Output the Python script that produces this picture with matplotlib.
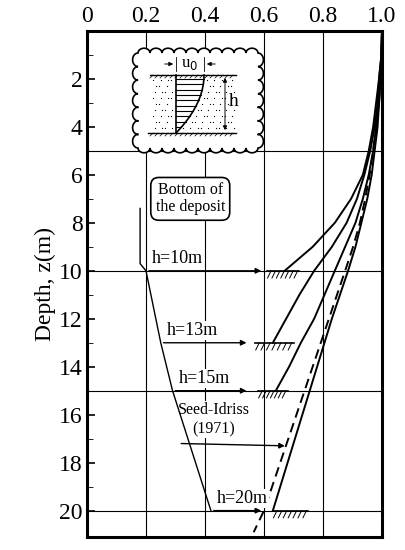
import matplotlib
matplotlib.use("Agg")
import matplotlib.pyplot as plt
import numpy as np

plt.rcParams["font.family"] = ["Liberation Serif", "DejaVu Serif"]

# (ratio u/u0, depth z)
z10 = [0, 1, 2, 3, 4, 5, 6, 7, 8, 9, 10]
u10 = [1.0, 0.998, 0.99, 0.98, 0.97, 0.955, 0.935, 0.895, 0.84, 0.765, 0.67]
z13 = [0, 1, 2, 3, 4, 5, 6, 7, 8, 9, 10, 11, 12, 13]
u13 = [1.0, 0.998, 0.99, 0.985, 0.975, 0.96, 0.94, 0.915, 0.88, 0.83, 0.77, 0.72, 0.675, 0.63]
z15 = [0, 1, 2, 3, 4, 5, 6, 7, 8, 9, 10, 11, 12, 13, 14, 15]
u15 = [1.0, 0.998, 0.995, 0.99, 0.98, 0.97, 0.955, 0.935, 0.91, 0.875, 0.84, 0.805, 0.77, 0.725, 0.685, 0.64]
z20 = [0, 1, 2, 3, 4, 5, 6, 7, 8, 9, 10, 12, 14, 16, 18, 20]
u20 = [1.0, 0.998, 0.995, 0.99, 0.985, 0.975, 0.965, 0.95, 0.93, 0.91, 0.885, 0.83, 0.78, 0.73, 0.68, 0.63]
z_seed = [0, 1, 2, 3, 4, 5, 6, 7, 8, 9, 10, 12, 14, 16, 18, 20, 20.9]
u_seed = [1.0, 0.998, 0.995, 0.988, 0.98, 0.97, 0.958, 0.943, 0.925, 0.902, 0.875, 0.82, 0.765, 0.71, 0.655, 0.60, 0.565]

# bottom-of-deposit guide line and the footings
bottom_h = [10, 13, 15, 20]
bottom_labels = ["h=10m", "h=13m", "h=15m", "h=20m"]
guide_x = [0.2, 0.25, 0.29, 0.42]
arrow_end = [0.6, 0.55, 0.55, 0.60]
foot_x = [(0.61, 0.72), (0.57, 0.70), (0.58, 0.68), (0.63, 0.75)]

fig = plt.figure(figsize=(4.05, 5.5), dpi=100)
ax = fig.add_axes([87 / 405, 1 - 537 / 550, 295 / 405, 506 / 550])
ax.set_xlim(0, 1.0)
ax.set_ylim(21.1, 0)
ax.xaxis.tick_top()
ax.set_xticks([0, 0.2, 0.4, 0.6, 0.8, 1.0])
ax.set_xticklabels(["0", "0.2", "0.4", "0.6", "0.8", "1.0"])
ax.set_yticks(range(2, 21, 2))
ax.set_yticks(range(1, 21, 2), minor=True)
ax.tick_params(labelsize=17, direction="in", length=6, width=1.2, pad=3)
ax.tick_params(axis="x", length=0)
ax.tick_params(which="minor", direction="in", length=4)
ax.set_ylabel("Depth, z(m)", fontsize=17, labelpad=2)
for s in ax.spines.values():
    s.set_linewidth(2.2)

for v in [0.2, 0.4, 0.6, 0.8]:
    ax.axvline(v, color="k", lw=0.8, zorder=0)
for v in [5, 10, 15, 20]:
    ax.axhline(v, color="k", lw=0.8, zorder=0)

for u, z in [(u10, z10), (u13, z13), (u15, z15), (u20, z20)]:
    ax.plot(u, z, color="k", lw=1.4, zorder=3)
ax.plot(u_seed, z_seed, color="k", lw=1.4, ls=(0, (5, 3)), zorder=3)

# guide line of deposit bottom
ax.plot([0.18, 0.18, 0.2] + guide_x[1:], [7.4, 9.7, 10] + bottom_h[1:], color="k", lw=1.0, zorder=5)
ax.text(0.35, 7.0, "Bottom of\nthe deposit", fontsize=11.5, ha="center", va="center", linespacing=1.1,
        bbox=dict(boxstyle="round,pad=0.3,rounding_size=0.5", fc="white", ec="k", lw=1.2), zorder=6)

for h, lab, gx, ae, (f0, f1) in zip(bottom_h, bottom_labels, guide_x, arrow_end, foot_x):
    ax.annotate("", xy=(ae, h), xytext=(gx, h),
                arrowprops=dict(arrowstyle="-|>", color="k", lw=1.0, mutation_scale=8), zorder=4)
    ax.text(gx + 0.02, h - 0.15, lab, fontsize=13, ha="left", va="bottom",
            bbox=dict(fc="white", ec="none", pad=0.5), zorder=4)
    ax.plot([f0, f1], [h, h], color="k", lw=1.2, zorder=4)
    for hx in np.linspace(f0 + 0.01, f1 - 0.01, 7):
        ax.plot([hx - 0.008, hx + 0.004], [h + 0.3, h], color="k", lw=0.7, zorder=4)

ax.text(0.43, 16.2, "Seed-Idriss\n(1971)", fontsize=11.5, ha="center", va="center", linespacing=1.3,
        bbox=dict(fc="white", ec="none", pad=0.5), zorder=4)
ax.annotate("", xy=(0.68, 17.3), xytext=(0.31, 17.2),
            arrowprops=dict(arrowstyle="-|>", color="k", lw=1.0, mutation_scale=8), zorder=4)

# inset sketch in pixel-like coordinates
ins = fig.add_axes([128 / 405, 1 - 158 / 550, 140 / 405, 115 / 550])
ins.set_xlim(0, 140)
ins.set_ylim(115, 0)
ins.axis("off")
ins.set_zorder(5)
x0, x1, y0, y1 = 10, 130, 10, 105
per = []
edges = [((x0, y0), (x1, y0)), ((x1, y0), (x1, y1)), ((x1, y1), (x0, y1)), ((x0, y1), (x0, y0))]
for (a, b) in edges:
    a, b = np.array(a, float), np.array(b, float)
    L = np.linalg.norm(b - a)
    n = max(int(L / 12), 1)
    d = (b - a) / L
    nrm = np.array([d[1], -d[0]])
    for k in range(n):
        c = a + d * (k + 0.5) * L / n
        rr = L / n / 2
        for aa in np.linspace(np.pi, 0, 12):
            per.append(c + d * rr * np.cos(aa) + nrm * rr * 0.8 * np.sin(aa))
per = np.array(per)
ins.fill(per[:, 0], per[:, 1], fc="white", ec="k", lw=1.2)

sx0, sx1, top, bot = 22, 108, 32, 90
ins.plot([sx0, sx1], [top, top], color="k", lw=1.0)
ins.plot([sx0 - 2, sx1], [bot, bot], color="k", lw=1.0)
for hx in np.arange(sx0 + 2, sx1, 5):
    ins.plot([hx - 2, hx + 1], [top + 3, top], color="k", lw=0.5)
    ins.plot([hx - 2, hx + 1], [bot + 3, bot], color="k", lw=0.5)
xv = 48
zz = np.linspace(0, 1, 50)
xc = xv + 28 * (1 - zz ** 2)
yc = top + zz * (bot - top)
ins.plot([xv, xv], [top, bot], color="k", lw=1.2)
ins.plot(xc, yc, color="k", lw=1.2)
for yy in np.linspace(top + 4, bot - 6, 10):
    ins.plot([xv, xv + 28 * (1 - ((yy - top) / (bot - top)) ** 2)], [yy, yy], color="k", lw=0.8)
# sand stipple
gx, gy = np.meshgrid(np.arange(sx0 + 3, sx1, 6), np.arange(top + 5, bot - 1, 6))
gx = gx.ravel() + (np.arange(gx.size) % 3) * 1.5
gy = gy.ravel()
fz = (gy - top) / (bot - top)
keep = (gx < xv - 2) | (gx > xv + 28 * (1 - fz ** 2) + 2)
ins.scatter(gx[keep], gy[keep], s=0.8, color="k", lw=0)
ins.plot([xv, xv], [14, 28], color="k", lw=0.6)
ins.plot([xv + 28, xv + 28], [14, 28], color="k", lw=0.6)
ins.annotate("", xy=(xv, 21), xytext=(xv - 14, 21), arrowprops=dict(arrowstyle="-|>", lw=0.7, color="k", mutation_scale=6))
ins.annotate("", xy=(xv + 28, 21), xytext=(xv + 42, 21), arrowprops=dict(arrowstyle="-|>", lw=0.7, color="k", mutation_scale=6))
ins.text(xv + 14, 21, "u$_0$", fontsize=12, ha="center", va="center")
ins.annotate("", xy=(97, top), xytext=(97, bot), arrowprops=dict(arrowstyle="<|-|>", lw=0.7, color="k", mutation_scale=6))
ins.text(101, 58, "h", fontsize=14, ha="left", va="center")

fig.savefig("out.png", dpi=100)
